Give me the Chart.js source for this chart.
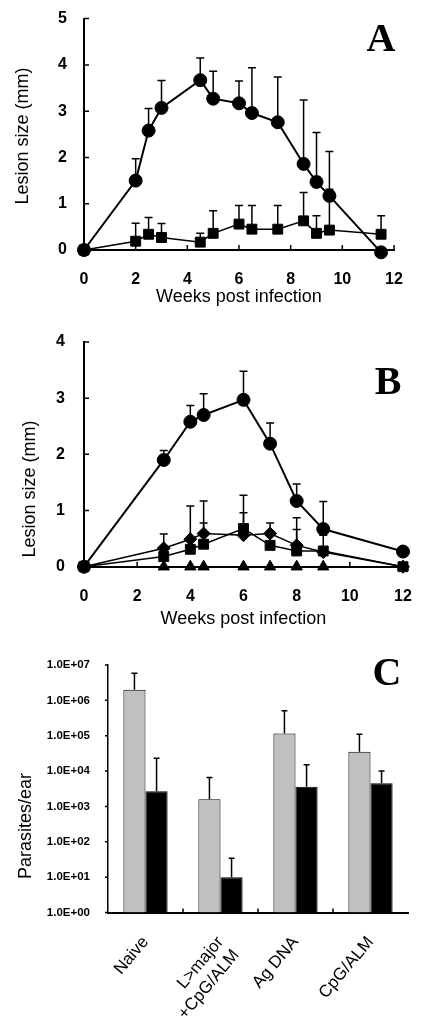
<!DOCTYPE html>
<html>
<head>
<meta charset="utf-8">
<script src="https://cdn.jsdelivr.net/npm/chart.js@4"></script>
<style>
    body { margin: 0; background: #fff; }
    #page { position: relative; width: 424px; height: 1018px; background: #fff; overflow: hidden; }
    canvas { position: absolute; left: 0; }
    .ytitle { position: absolute; font: 18px "Liberation Sans", Arial, sans-serif; white-space: nowrap;
              transform: translate(-50%, -50%) rotate(-90deg); color: #000; }
    .letter { position: absolute; font: bold 40px "Liberation Serif", "Times New Roman", serif; line-height: 1;
              transform: translate(-50%, -50%); color: #000; }
</style>
</head>
<body>
<div id="page">
    <canvas id="chartA" width="424" height="308" style="top:0"></canvas>
    <canvas id="chartB" width="424" height="322" style="top:308px"></canvas>
    <canvas id="chartC" width="424" height="388" style="top:630px"></canvas>
    <div class="ytitle" style="left:22px;top:136px">Lesion size (mm)</div>
    <div class="ytitle" style="left:29px;top:489px">Lesion size (mm)</div>
    <div class="ytitle" style="left:25px;top:826px">Parasites/ear</div>
    <div class="letter" style="left:381px;top:38px">A</div>
    <div class="letter" style="left:388px;top:381px">B</div>
    <div class="letter" style="left:387px;top:672px">C</div>
</div>
<script>
// A - tuần sau nhiễm
var weeksA = [0, 2, 2.5, 3, 4.5, 5, 6, 6.5, 7.5, 8.5, 9, 9.5, 11.5];
var circleA = [0, 1.5, 2.58, 3.07, 3.67, 3.27, 3.17, 2.96, 2.76, 1.86, 1.47, 1.17, -0.05];
var circleErrA = [null, 1.97, 3.06, 3.66, 4.15, 3.86, 3.65, 3.94, 3.74, 3.24, 2.54, 2.13, null];
var squareA = [0, 0.19, 0.34, 0.27, 0.17, 0.36, 0.56, 0.45, 0.45, 0.63, 0.36, 0.43, 0.34];
var squareErrA = [null, 0.58, 0.7, 0.57, 0.36, 0.85, 0.96, 0.96, 0.96, 1.24, 0.74, 1.31, 0.74];

// B
var weeksB = [0, 3, 4, 4.5, 6, 7, 8, 9, 12];
var circleB = [0, 1.9, 2.58, 2.7, 2.97, 2.19, 1.17, 0.67, 0.27];
var circleErrB = [null, 2.07, 2.87, 3.08, 3.48, 2.56, 1.47, 1.16, 0.33];
var diamondB = [0, 0.33, 0.49, 0.59, 0.56, 0.59, 0.38, 0.26, 0];
var diamondErrB = [null, 0.58, 1.08, 1.17, 0.96, 0.78, 0.87, null, null];
var squareB = [0, 0.18, 0.31, 0.4, 0.68, 0.38, 0.28, 0.28, 0];
var squareErrB = [null, null, null, 0.78, 1.27, null, 0.66, 0.56, null];
var triangleB = [0, 0, 0, 0, 0, 0, 0, 0, 0];

// C - số ký sinh trùng / tai
var groupsC = ["Naive", ["L>major", "+CpG/ALM"], "Ag DNA", "CpG/ALM"];
var grayC = [2.0e6, 1.6e3, 1.15e5, 3.5e4];
var grayErrC = [5.8e6, 6.6e3, 5.1e5, 1.1e5];
var blackC = [2.7e3, 10, 3.6e3, 4.5e3];
var blackErrC = [2.3e4, 34, 1.5e4, 1.0e4];
var tickValsC = [1, 10, 100, 1e3, 1e4, 1e5, 1e6, 1e7];
var tickLabelsC = ["1.0E+00", "1.0E+01", "1.0E+02", "1.0E+03", "1.0E+04", "1.0E+05", "1.0E+06", "1.0E+07"];

Chart.defaults.font.family = '"Liberation Sans", Arial, sans-serif';
Chart.defaults.color = "#000";

function pts(xs, ys) {
    return xs.map(function (x, i) { return { x: x, y: ys[i] }; });
}

// thanh lỗi (chỉ phía trên)
var errorBars = {
    id: "errorBars",
    beforeDatasetsDraw: function (chart) {
        var ctx = chart.ctx, ys = chart.scales.y;
        ctx.save();
        ctx.strokeStyle = "#000";
        ctx.lineWidth = 1.5;
        chart.data.datasets.forEach(function (ds, i) {
            if (!ds.errorTop) return;
            var meta = chart.getDatasetMeta(i);
            var cap = ds.capWidth || 4;
            meta.data.forEach(function (el, j) {
                var top = ds.errorTop[j];
                if (top == null) return;
                var yTop = ys.getPixelForValue(top);
                ctx.beginPath();
                ctx.moveTo(el.x, el.y);
                ctx.lineTo(el.x, yTop);
                ctx.moveTo(el.x - cap, yTop);
                ctx.lineTo(el.x + cap, yTop);
                ctx.stroke();
            });
        });
        ctx.restore();
    },
};

// vạch chia hướng vào trong
function tickMarks(xMode, yLen) {
    return {
        id: "tickMarks",
        afterDraw: function (chart) {
            var ctx = chart.ctx, xs = chart.scales.x, ys = chart.scales.y, area = chart.chartArea;
            ctx.save();
            ctx.strokeStyle = "#000";
            ctx.lineWidth = 1.5;
            ctx.beginPath();
            if (xMode === "between") {
                for (var i = 1; i < xs.ticks.length; i++) {
                    var px = (xs.getPixelForTick(i - 1) + xs.getPixelForTick(i)) / 2;
                    ctx.moveTo(px, area.bottom);
                    ctx.lineTo(px, area.bottom - 4);
                }
            } else {
                xs.ticks.forEach(function (t, i) {
                    var px = xs.getPixelForTick(i);
                    ctx.moveTo(px, area.bottom);
                    ctx.lineTo(px, area.bottom - 5);
                });
            }
            ys.ticks.forEach(function (t, i) {
                var py = ys.getPixelForTick(i);
                ctx.moveTo(area.left, py);
                ctx.lineTo(area.left + yLen, py);
            });
            ctx.stroke();
            ctx.restore();
        },
    };
}

function lineSet(data, err, style, radius, width) {
    return {
        data: data,
        errorTop: err,
        borderColor: "#000",
        borderWidth: width,
        backgroundColor: "#000",
        pointStyle: style,
        pointRadius: radius,
        pointBackgroundColor: "#000",
        pointBorderColor: "#000",
        pointBorderWidth: 1,
        tension: 0,
        clip: false,
    };
}

function weekScales(maxY, yWidth, chartBottom, canvasH, yPad) {
    return {
        x: {
            type: "linear", min: 0, max: 12,
            grid: { display: false },
            border: { display: true, color: "#000", width: 2 },
            ticks: { stepSize: 2, padding: 12, font: { size: 16, weight: "bold" } },
            title: { display: true, text: "Weeks post infection", font: { size: 18 }, padding: { top: 0, bottom: 0 } },
            afterFit: function (s) { s.height = canvasH - chartBottom; },
        },
        y: {
            min: 0, max: maxY,
            grid: { display: false },
            border: { display: true, color: "#000", width: 2 },
            ticks: { stepSize: 1, padding: yPad, font: { size: 16, weight: "bold" } },
            afterFit: function (s) { s.width = yWidth; },
        },
    };
}

// BIỂU ĐỒ A
new Chart(document.getElementById("chartA"), {
    type: "line",
    data: {
        datasets: [
            lineSet(pts(weeksA, circleA), circleErrA, "circle", 6.5, 2),
            lineSet(pts(weeksA, squareA), squareErrA, "rect", 7, 1.5),
        ],
    },
    options: {
        responsive: false,
        animation: false,
        events: [],
        layout: { padding: { left: 0, right: 30, top: 17, bottom: 0 } },
        plugins: { legend: { display: false }, tooltip: { enabled: false } },
        scales: weekScales(5, 84, 250, 308, 9),
    },
    plugins: [errorBars, tickMarks("ticks", 5)],
});

// BIỂU ĐỒ B
new Chart(document.getElementById("chartB"), {
    type: "line",
    data: {
        datasets: [
            lineSet(pts(weeksB, triangleB), null, "triangle", 6.5, 1.5),
            lineSet(pts(weeksB, squareB), squareErrB, "rect", 7, 1.5),
            lineSet(pts(weeksB, diamondB), diamondErrB, "rectRot", 6.5, 1.5),
            lineSet(pts(weeksB, circleB), circleErrB, "circle", 6.5, 2),
        ],
    },
    options: {
        responsive: false,
        animation: false,
        events: [],
        layout: { padding: { left: 0, right: 21, top: 34, bottom: 0 } },
        plugins: { legend: { display: false }, tooltip: { enabled: false } },
        scales: weekScales(4, 84, 258.7, 322, 11),
    },
    plugins: [errorBars, tickMarks("ticks", 5)],
});

// BIỂU ĐỒ C
new Chart(document.getElementById("chartC"), {
    type: "bar",
    data: {
        labels: groupsC,
        datasets: [
            { data: grayC, errorTop: grayErrC, capWidth: 3, backgroundColor: "#c0c0c0", borderColor: "#000", borderWidth: 1 },
            { data: blackC, errorTop: blackErrC, capWidth: 3, backgroundColor: "#000", borderColor: "#000", borderWidth: 1 },
        ],
    },
    options: {
        responsive: false,
        animation: false,
        events: [],
        layout: { padding: { left: 0, right: 16, top: 35, bottom: 0 } },
        datasets: { bar: { categoryPercentage: 0.59, barPercentage: 1 } },
        plugins: { legend: { display: false }, tooltip: { enabled: false } },
        scales: {
            x: {
                grid: { display: false },
                border: { display: true, color: "#000", width: 2 },
                ticks: { autoSkip: false, minRotation: 50, maxRotation: 50, padding: 12, font: { size: 17 } },
                afterFit: function (s) { s.height = 388 - 282.5; },
            },
            y: {
                type: "logarithmic", min: 1, max: 1e7,
                grid: { display: false },
                border: { display: true, color: "#000", width: 1.5 },
                ticks: {
                    padding: 10,
                    font: { size: 11.5, weight: "bold" },
                    callback: function (v) { return tickLabelsC[tickValsC.indexOf(v)]; },
                },
                afterBuildTicks: function (s) {
                    s.ticks = tickValsC.map(function (v) { return { value: v }; });
                },
                afterFit: function (s) { s.width = 108; },
            },
        },
    },
    plugins: [errorBars, tickMarks("between", -3)],
});
</script>
</body>
</html>
